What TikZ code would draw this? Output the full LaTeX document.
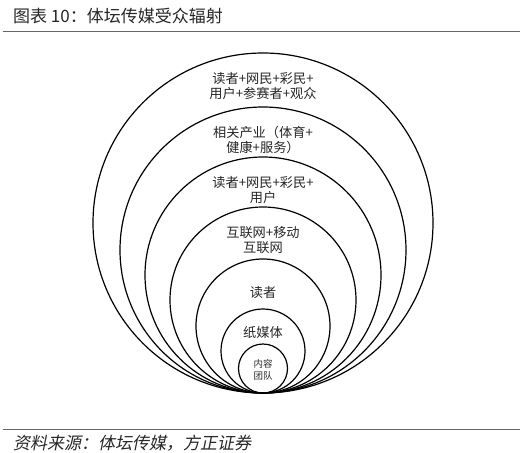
\documentclass[tikz,border=0pt]{standalone}
\usepackage{fontspec}
\setmainfont{Liberation Serif}
\newfontfamily\cjk{Noto Sans CJK SC}
\newfontfamily\cjkit[FakeSlant=0.2]{Noto Sans CJK SC}
\begin{document}
\begin{tikzpicture}[x=1pt,y=-1pt,
  ring/.style={circle,draw=black,line width=1.2pt,inner sep=0pt,minimum size=#1},
  lbl/.style={font=\cjk\fontsize{13.2}{15}\selectfont,align=center,text=black!85,inner sep=0pt},
  small/.style={font=\cjk\fontsize{9.5}{12.5}\selectfont,align=center,text=black!85,inner sep=0pt},
  rule/.style={draw=black!60,line width=1pt}]
\useasboundingbox (0,0) rectangle (523,453);
% title
\node[anchor=west,inner sep=0pt,font=\cjk\fontsize{17}{20}\selectfont,text=black!85] (title) at (13,16) {图表 10：体坛传媒受众辐射};
\coordinate (tl) at (3,31);
\coordinate (tr) at (520,31);
\draw[rule] (tl) -- (tr);
% circles
\foreach \n/\r in {c1/170,c2/143,c3/118,c4/93,c5/67,c6/42,c7/24.5}{
  \node[ring=2*\r] (\n) at (263,393-\r) {};
}
% labels
\node[lbl] (t1) at (263,86) {读者+网民+彩民+\\用户+参赛者+观众};
\node[lbl] (t2) at (263,140) {相关产业（体育+\\健康+服务）};
\node[lbl] (t3) at (263,190) {读者+网民+彩民+\\用户};
\node[lbl] (t4) at (263,240) {互联网+移动\\互联网};
\node[lbl] (t5) at (263,293) {读者};
\node[lbl] (t6) at (263,332) {纸媒体};
\node[small] (t7) at (263,370) {内容\\团队};
% source
\coordinate (bl) at (3,429);
\coordinate (br) at (520,429);
\draw[rule] (bl) -- (br);
\node[anchor=west,inner sep=0pt,font=\cjkit\fontsize{17}{20}\selectfont,text=black!85] (src) at (13,443) {资料来源：体坛传媒，方正证券};
\end{tikzpicture}
\end{document}
